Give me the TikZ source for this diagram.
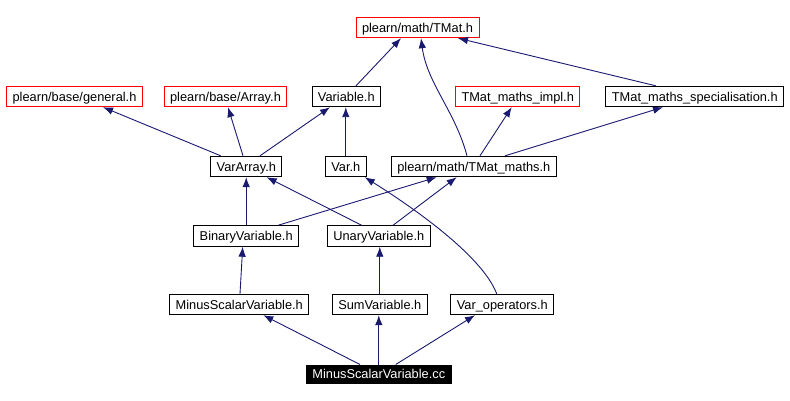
\documentclass[tikz,border=0pt]{standalone}
\usepackage{fontspec}
\setmainfont{Liberation Sans}
\usetikzlibrary{arrows.meta}
\definecolor{edgeblue}{RGB}{25,25,112}

\begin{document}
\begin{tikzpicture}[>={Latex[length=10pt,width=7.5pt]}, x=1pt, y=-1pt,
    font=\fontsize{12.8}{15}\selectfont]

    % estilos
    \tikzstyle{hfile}=[draw, line width=0.9pt, inner xsep=6pt, inner ysep=0pt, text height=9.2pt, text depth=0pt, minimum height=20.5pt, fill=white]
    \tikzstyle{hmissing}=[hfile, draw=red]
    \tikzstyle{srcfile}=[hfile, fill=black, text=white, minimum height=18.5pt]
    \tikzstyle{dep}=[->, edgeblue, line width=0.9pt]

    \useasboundingbox (0,0) rectangle (790,401);

    % linha de cima
    \node[hmissing] (tmat) at (417.5,27.5) {plearn/math/TMat.h};

    % cabeçalhos incluídos
    \node[hmissing] (general) at (74.5,96.5) {plearn/base/general.h};
    \node[hmissing] (array) at (225.5,96.5) {plearn/base/Array.h};
    \node[hfile] (variable) at (346.3,96.5) {Variable.h};
    \node[hmissing] (impl) at (517.7,96.5) {TMat\_maths\_impl.h};
    \node[hfile] (spec) at (694.8,96.5) {TMat\_maths\_specialisation.h};

    \node[hfile] (vararray) at (246.3,166.5) {VarArray.h};
    \node[hfile] (var) at (345.8,166.5) {Var.h};
    \node[hfile] (tmaths) at (473.8,166.5) {plearn/math/TMat\_maths.h};

    \node[hfile] (binary) at (246.2,236) {BinaryVariable.h};
    \node[hfile] (unary) at (378.8,236) {UnaryVariable.h};

    \node[hfile] (minush) at (239.3,304.5) {MinusScalarVariable.h};
    \node[hfile] (sum) at (379.8,304.5) {SumVariable.h};
    \node[hfile] (varops) at (502.3,304.5) {Var\_operators.h};

    % arquivo fonte
    \node[srcfile] (cc) at (378.8,374.2) {MinusScalarVariable.cc};

    % arestas até TMat.h
    \draw[dep] ([xshift=9.7pt]variable.north) -- ([xshift=-16.5pt]tmat.south);
    \draw[dep] ([xshift=-6.8pt]tmaths.north) .. controls +(-12,-45) and +(6,45) .. ([xshift=3.5pt]tmat.south);
    \draw[dep] ([xshift=-39pt]spec.north) -- ([xshift=40.5pt]tmat.south);

    % arestas da segunda linha
    \draw[dep] ([xshift=-25.6pt]vararray.north) -- ([xshift=28.5pt]general.south);
    \draw[dep] ([xshift=-3.3pt]vararray.north) -- ([xshift=2.5pt]array.south);
    \draw[dep] ([xshift=13.7pt]vararray.north) -- ([xshift=-16.3pt]variable.south);
    \draw[dep] (var.north) -- (var.north |- variable.south);
    \draw[dep] ([xshift=6.2pt]tmaths.north) -- ([xshift=-6pt]impl.south);
    \draw[dep] ([xshift=31.2pt]tmaths.north) -- ([xshift=-31.8pt]spec.south);

    % arestas da terceira linha
    \draw[dep] (binary.north) -- (binary.north |- vararray.south);
    \draw[dep] ([xshift=31.8pt]binary.north) -- ([xshift=-37.1pt]tmaths.south);
    \draw[dep] ([xshift=-17.1pt]unary.north) -- ([xshift=20.4pt]vararray.south);
    \draw[dep] ([xshift=14.2pt]unary.north) -- ([xshift=-17.1pt]tmaths.south);
    \draw[dep] ([xshift=-5.6pt]varops.north) .. controls +(-15,-40) and +(40,25) .. ([xshift=-2pt]var.south east);

    % arestas da quarta linha
    \draw[dep] ([xshift=0.7pt]minush.north) -- ([xshift=-3.5pt]binary.south);
    \draw[dep] (sum.north) -- (sum.north |- unary.south);

    % arestas do arquivo fonte
    \draw[dep] ([xshift=-18.8pt]cc.north) -- ([xshift=24pt]minush.south);
    \draw[dep] (cc.north) -- (cc.north |- sum.south);
    \draw[dep] ([xshift=16.9pt]cc.north) -- ([xshift=-27.3pt]varops.south);

\end{tikzpicture}
\end{document}
